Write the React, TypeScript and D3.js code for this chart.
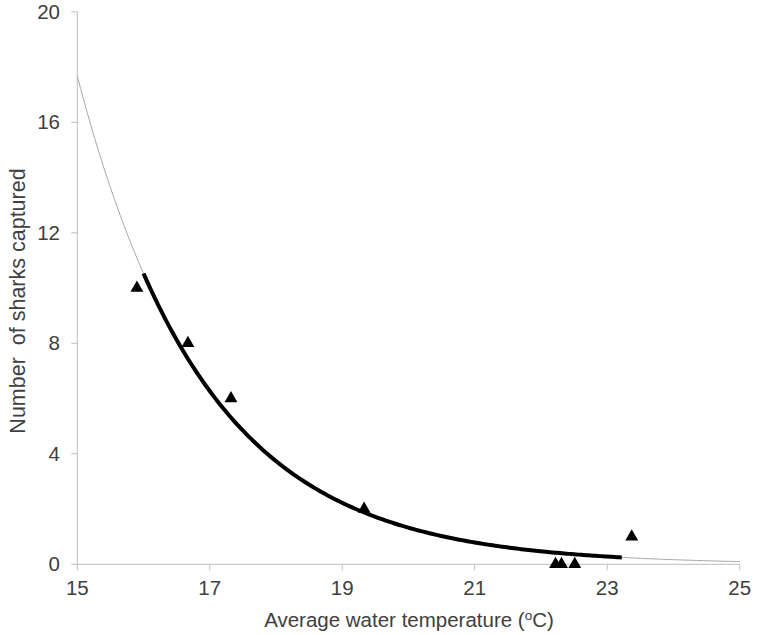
import React from "react";
import * as d3 from "d3";

const temps = [15.9, 16.67, 17.32, 19.33, 22.22, 22.31, 22.51, 23.37];
const sharks = [10, 8, 6, 2, 0, 0, 0, 1];
const xTicks = [15, 17, 19, 21, 23, 25];
const yTicks = [0, 4, 8, 12, 16, 20];
// exponential trendline y = a * exp(-b * (x - 15))
const trendA = 17.67;
const trendB = 0.518;
const fitRange = [16, 23.22];
const fullRange = [15, 25];

export default function App() {
  const W = 757, H = 635;
  const x = d3.scaleLinear().domain([15, 25]).range([77.3, 739.7]);
  const y = d3.scaleLinear().domain([0, 20]).range([564.3, 11.8]);
  const f = (t: number) => trendA * Math.exp(-trendB * (t - 15));
  const mk = (r: number[]) => d3.range(r[0], r[1] + 1e-9, (r[1] - r[0]) / 200).map((t) => [t, f(t)] as [number, number]);
  const line = d3.line<[number, number]>().x((d) => x(d[0])).y((d) => y(d[1])).curve(d3.curveLinear);
  const font = "Liberation Sans, Arial, sans-serif";
  const axisColor = "#bfbfbf";
  const textColor = "#404040";
  const tri = d3.symbol().type(d3.symbolTriangle).size(72)();
  return (
    <svg width={W} height={H} style={{ position: "absolute", left: 0, top: 0, background: "#fff" }} fontFamily={font}>
      {/* axes */}
      <line x1={x(15)} x2={x(15)} y1={y(20)} y2={y(0)} stroke={axisColor} strokeWidth={1} />
      <line x1={x(15)} x2={x(25)} y1={y(0)} y2={y(0)} stroke={axisColor} strokeWidth={1} />
      {yTicks.map((t) => (
        <g key={"y" + t}>
          <line x1={x(15) - 6} x2={x(15)} y1={y(t)} y2={y(t)} stroke={axisColor} />
          <text x={60} y={y(t)} dy="0.35em" textAnchor="end" fontSize={20.5} fill={textColor}>{t}</text>
        </g>
      ))}
      {xTicks.map((t) => (
        <g key={"x" + t}>
          <line x1={x(t)} x2={x(t)} y1={y(0)} y2={y(0) + 6} stroke={axisColor} />
          <text x={x(t)} y={595} textAnchor="middle" fontSize={20.5} fill={textColor}>{t}</text>
        </g>
      ))}
      <text x={409} y={627} textAnchor="middle" fontSize={20.5} fill={textColor}>
        Average water temperature (<tspan fontSize={13.5} dy={-7}>o</tspan><tspan dy={7}>C)</tspan>
      </text>
      <text transform={`translate(25,301) rotate(-90)`} textAnchor="middle" fontSize={21.5} fill={textColor} style={{ whiteSpace: "pre" }}>
        {"Number  of sharks captured"}
      </text>
      {/* trend lines */}
      <path d={line(mk(fullRange)) || ""} fill="none" stroke="#a8a8a8" strokeWidth={1} />
      <path d={line(mk(fitRange)) || ""} fill="none" stroke="#000" strokeWidth={4} />
      {temps.map((t, i) => (
        <path key={i} d={tri || ""} transform={`translate(${x(t)},${y(sharks[i])})`} fill="#000" />
      ))}
    </svg>
  );
}
